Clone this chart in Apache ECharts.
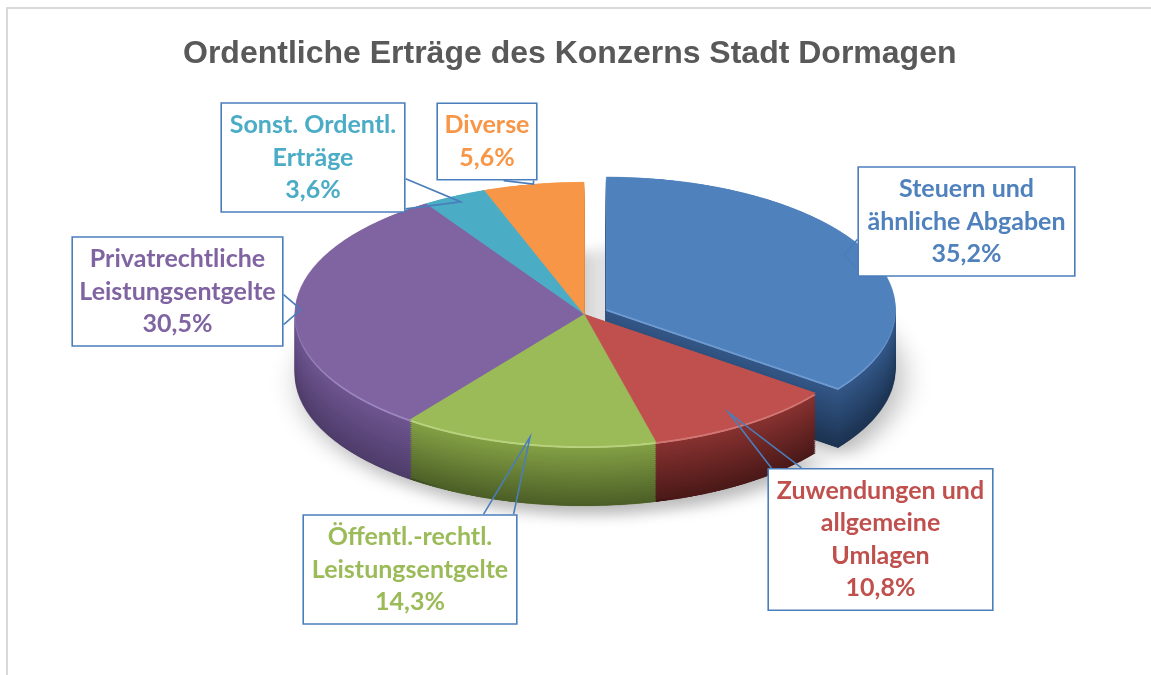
<!DOCTYPE html>
<html><head><meta charset="utf-8">
<script src="https://cdn.jsdelivr.net/npm/echarts@6/dist/echarts.min.js"></script>
<style>
html,body{margin:0;padding:0;overflow:hidden;background:#fff;width:1151px;height:675px}
#frame{position:absolute;left:6px;top:7px;width:1170px;height:720px;border:2px solid #D9D9D9;box-sizing:border-box}
#pie{position:absolute;left:0;top:0;width:1151px;height:800px}
#over{position:absolute;left:0;top:0;width:1151px;height:675px}
</style></head><body>
<div id="frame"></div><div id="pie"></div><div id="over"></div>
<script>
// ---- data ----
const titleText = 'Ordentliche Erträge des Konzerns Stadt Dormagen';
const categories = ['Steuern und\nähnliche Abgaben', 'Zuwendungen und\nallgemeine\nUmlagen', 'Öffentl.-rechtl.\nLeistungsentgelte', 'Privatrechtliche\nLeistungsentgelte', 'Sonst. Ordentl.\nErträge', 'Diverse'];
const shares = [35.2, 10.8, 14.3, 30.5, 3.6, 5.6];
const explodedIndex = 0;

// ---- styles / layout ----
const topColors = ['#4F81BD', '#C0504D', '#9BBB59', '#8064A2', '#4BACC6', '#F79646'];
const sideTop = ['#34598A', '#8A3331', '#86A346', '#6F5691', '#3C95AC', '#D67B30'];
const sideBottom = ['#1C3352', '#4A1918', '#4C5F27', '#4E3C6A', '#245D6B', '#8E4F18'];
const rimColors = ['#6F9AD0', '#D07673', '#B8D27E', '#9C86BE', '#78C4D8', '#F9B27A'];
const CX = 584, CY = 314, RX = 289, RY = 132, DEPTH = 60, EXPLODE = 25, LAYERS = 30;
const S = RY / RX;
const labelBoxes = [
  {cx: 966.5, cy: 221.5, w: 215},
  {cx: 880.5, cy: 539.5, w: 223},
  {cx: 410, cy: 569.5, w: 212},
  {cx: 177.5, cy: 291.5, w: 209},
  {cx: 313, cy: 157.5, w: 182},
  {cx: 487, cy: 141.5, w: 98}
];
const tipFractions = [0.92, 0.9, 0.95, 0.98, 0.95, 1.0];

function hex(c){return [parseInt(c.slice(1,3),16),parseInt(c.slice(3,5),16),parseInt(c.slice(5,7),16)];}
function mix(a,b,t){const x=hex(a),y=hex(b);return 'rgb('+x.map((v,i)=>Math.round(v+(y[i]-v)*t)).join(',')+')';}

const pieDiv = document.getElementById('pie');
pieDiv.style.transformOrigin = '0 ' + CY + 'px';
pieDiv.style.transform = 'scaleY(' + S + ')';

const pieChart = echarts.init(pieDiv, null, {renderer: 'canvas'});
const series = [];
for (let k = LAYERS; k >= 0; k--) {
  const t = k / LAYERS;
  const d = DEPTH * t;
  series.push({
    type: 'pie',
    center: [CX, CY + d / S],
    radius: [0, RX],
    startAngle: 90,
    clockwise: true,
    selectedMode: 'single',
    selectedOffset: EXPLODE,
    animation: false,
    silent: true,
    avoidLabelOverlap: false,
    z: LAYERS - k + 1,
    label: {show: false},
    labelLine: {show: false},
    emphasis: {disabled: true},
    itemStyle: k === LAYERS ? {shadowBlur: 30, shadowColor: 'rgba(0,0,0,0.28)', shadowOffsetX: 6, shadowOffsetY: 20} : {},
    data: shares.map((v, i) => {
      const col = k === 0 ? topColors[i] : (d <= 2.5 ? rimColors[i] : mix(sideTop[i], sideBottom[i], t));
      return {value: v, name: categories[i], selected: i === explodedIndex,
        itemStyle: {color: col, borderColor: col, borderWidth: 0.6}};
    })
  });
}
pieChart.setOption({animation: false, series: series});

// ---- overlay: title and callout labels ----
const over = echarts.init(document.getElementById('over'), null, {renderer: 'canvas'});
function clamp(v, a, b){return Math.max(a, Math.min(b, v));}
function fmt(v){return v.toFixed(1).replace('.', ',') + '%';}
const total = shares.reduce((a, b) => a + b, 0);
over.setOption({
  animation: false,
  backgroundColor: 'transparent',
  title: {
    text: titleText, left: 183, top: 38, padding: 0,
    textStyle: {fontFamily: 'Liberation Sans', fontWeight: 'bold', fontSize: 32, color: '#595959'}
  },
  series: [{
    type: 'pie',
    center: [CX, CY],
    radius: [0, RX],
    startAngle: 90,
    clockwise: true,
    silent: true,
    animation: false,
    avoidLabelOverlap: false,
    emphasis: {disabled: true},
    itemStyle: {color: 'rgba(0,0,0,0)', borderWidth: 0},
    label: {
      show: true, position: 'outside',
      formatter: p => p.name + '\n' + fmt(p.value),
      fontFamily: 'Lato', fontWeight: 'bold', fontSize: 25, lineHeight: 32.5,
      align: 'center', backgroundColor: '#FFFFFF', borderColor: '#4A7EBB', borderWidth: 1.6,
      padding: [5, 0]
    },
    labelLine: {show: true, smooth: false, lineStyle: {color: '#4A7EBB', width: 1.6}},
    labelLayout: function (p) {
      const i = p.dataIndex, b = labelBoxes[i];
      const w = p.labelRect.width, h = p.labelRect.height;
      const left = b.cx - w / 2, right = b.cx + w / 2, top = b.cy - h / 2, bottom = b.cy + h / 2;
      let dx, dy;
      if (p.labelLinePoints && p.labelLinePoints.length) {
        const q = p.labelLinePoints[0];
        const len = Math.hypot(q[0] - CX, q[1] - CY) || 1;
        dx = (q[0] - CX) / len; dy = (q[1] - CY) / len;
      } else {
        let acc = 0; for (let j = 0; j < i; j++) acc += shares[j];
        const m = -Math.PI / 2 + (acc + shares[i] / 2) / total * Math.PI * 2;
        dx = Math.cos(m); dy = Math.sin(m);
      }
      const r = tipFractions[i] * RX + (i === explodedIndex ? EXPLODE : 0);
      const tip = [CX + r * dx, CY + r * S * dy];
      const half = 15, m = 4;
      const ex = {left: left - tip[0], right: tip[0] - right, top: top - tip[1], bottom: tip[1] - bottom};
      let side = 'left';
      for (const s in ex) if (ex[s] > ex[side]) side = s;
      let A, B;
      if (side === 'left' || side === 'right') {
        const xx = side === 'left' ? left : right;
        const yy = clamp(tip[1], top + half + m, bottom - half - m);
        A = [xx, yy - half]; B = [xx, yy + half];
      } else {
        const yy = side === 'top' ? top : bottom;
        const xx = clamp(tip[0], left + half + m, right - half - m);
        A = [xx - half, yy]; B = [xx + half, yy];
      }
      return {x: b.cx, y: b.cy, align: 'center', verticalAlign: 'middle', labelLinePoints: [A, tip, B]};
    },
    data: shares.map((v, i) => ({
      value: v, name: categories[i],
      label: {color: topColors[i], width: labelBoxes[i].w}
    }))
  }]
});
</script>
</body></html>
